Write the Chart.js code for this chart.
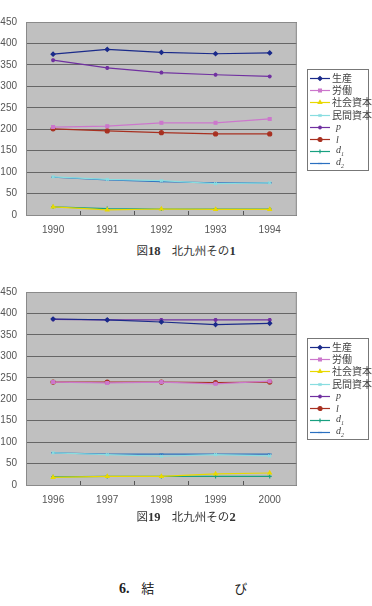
<!DOCTYPE html>
<html lang="ja">
<head>
<meta charset="UTF-8">
<title>北九州</title>
<script src="https://cdn.jsdelivr.net/npm/chart.js"></script>
<style>
  html, body { margin: 0; padding: 0; background: #fff; }
  body { width: 372px; height: 606px; position: relative; overflow: hidden;
         font-family: "Noto Sans CJK JP", "Liberation Sans", sans-serif; }
  .wrap { position: absolute; left: 0; width: 302px; height: 240px; }
  .legend { position: absolute; left: 307px; width: 62px; border: 1px solid #777;
            background: #fff; padding: 2px 0 1px 0; box-sizing: border-box; }
  .legend .row { height: 12.2px; display: flex; align-items: center; font-size: 10px;
                 color: #444; white-space: nowrap; line-height: 12px; }
  .legend canvas { flex: none; margin: 0 2px 0 2px; }
  .legend i { font-family: "Liberation Serif", serif; font-size: 10px; margin-left: 4px; }
  .legend sub { font-size: 6px; font-style: italic; font-family: "Liberation Serif", serif; }
  .cap { position: absolute; left: 0; width: 372px; text-align: center; font-size: 11.5px;
         color: #333; }
  .cap b { font-family: "Liberation Serif", serif; font-size: 12.5px; }
  .sec { position: absolute; top: 578px; left: 119px; font-size: 13px; color: #222; }
  .sec b { font-family: "Liberation Serif", serif; font-size: 14px; }
</style>
</head>
<body>
  <div class="wrap" style="top:0"><canvas id="chart18" width="302" height="240"></canvas></div>
  <div class="legend" id="legend18" style="top:69px; height:102px"></div>
  <div class="cap" style="top:242px"><span>図</span><b>18</b>　北九州その<b>1</b></div>

  <div class="wrap" style="top:270px"><canvas id="chart19" width="302" height="240"></canvas></div>
  <div class="legend" id="legend19" style="top:338px; height:102px"></div>
  <div class="cap" style="top:508px"><span>図</span><b>19</b>　北九州その<b>2</b></div>

  <div class="sec"><b>6.</b>&nbsp;&nbsp;&nbsp;&nbsp;結<span style="display:inline-block;width:80px"></span>び</div>

<script>
// series names (legend) and years
const seriesNames = ['生産', '労働', '社会資本', '民間資本', 'p', 'l', 'd1', 'd2'];
const years18 = ['1990', '1991', '1992', '1993', '1994'];
const years19 = ['1996', '1997', '1998', '1999', '2000'];
const yTicks = [0, 50, 100, 150, 200, 250, 300, 350, 400, 450];

// 図18 北九州その1
const seisan18 = [375, 386, 379, 376, 378];
const roudou18 = [205, 207, 215, 215, 224];
const shakai18 = [19, 12, 14, 13, 13];
const minkan18 = [89, 83, 80, 73, 75];
const p18 = [361, 343, 332, 327, 323];
const l18 = [201, 196, 192, 189, 189];
const d1_18 = [19, 15, 14, 14, 14];
const d2_18 = [88, 82, 78, 75, 75];

// 図19 北九州その2
const seisan19 = [387, 385, 380, 374, 377];
const roudou19 = [240, 238, 240, 236, 242];
const shakai19 = [18, 20, 20, 26, 28];
const minkan19 = [75, 71, 67, 71, 68];
const p19 = [386, 385, 385, 385, 385];
const l19 = [240, 240, 240, 239, 240];
const d1_19 = [19, 20, 20, 20, 20];
const d2_19 = [75, 72, 72, 72, 72];

const colors = ['#1a2a8a', '#cc77cc', '#e8d800', '#88dde0', '#7030a0', '#a83020', '#18a080', '#2a70c0'];
const markers = ['rectRot', 'rect', 'triangle', 'crossRot', 'star', 'circle', 'cross', 'line'];

function buildDatasets(list) {
    return list.map((vals, i) => ({
        label: seriesNames[i],
        data: vals,
        borderColor: colors[i],
        backgroundColor: colors[i],
        borderWidth: 1.2,
        pointStyle: markers[i],
        pointRadius: 2,
        pointBorderWidth: 1.2,
        tension: 0
    }));
}

// gray plot background + border
const plotBg = {
    id: 'plotBg',
    beforeDraw(chart) {
        const a = chart.chartArea, ctx = chart.ctx;
        ctx.save();
        ctx.fillStyle = '#c0c0c0';
        ctx.fillRect(a.left, a.top, a.right - a.left, a.bottom - a.top);
        ctx.restore();
    },
    afterDatasetsDraw(chart) {
        const a = chart.chartArea, ctx = chart.ctx;
        ctx.save();
        ctx.strokeStyle = '#8a8a8a';
        ctx.lineWidth = 1;
        ctx.strokeRect(a.left + 0.5, a.top + 0.5, a.right - a.left - 1, a.bottom - a.top);
        // small inner ticks between categories
        const xs = chart.scales.x;
        ctx.strokeStyle = '#555';
        for (let i = 1; i < xs.ticks.length; i++) {
            const x = Math.round((xs.getPixelForTick(i - 1) + xs.getPixelForTick(i)) / 2) + 0.5;
            ctx.beginPath();
            ctx.moveTo(x, a.bottom);
            ctx.lineTo(x, a.bottom - 4);
            ctx.stroke();
        }
        ctx.restore();
    }
};

function makeChart(id, labels, list) {
    new Chart(document.getElementById(id), {
        type: 'line',
        data: { labels: labels, datasets: buildDatasets(list) },
        plugins: [plotBg],
        options: {
            responsive: false,
            animation: false,
            layout: { padding: { top: 22, right: 2, left: 0, bottom: 0 } },
            plugins: { legend: { display: false }, tooltip: { enabled: false } },
            scales: {
                x: {
                    offset: true,
                    grid: { display: false },
                    border: { display: true, color: '#555' },
                    ticks: { color: '#555', font: { family: 'Liberation Sans', size: 10 }, padding: 1 },
                    afterFit(s) { s.height = 25; }
                },
                y: {
                    min: 0, max: 450,
                    afterBuildTicks(s) { s.ticks = yTicks.map(v => ({ value: v })); },
                    grid: { color: '#666', lineWidth: 1, drawTicks: false },
                    border: { display: false },
                    ticks: { color: '#555', font: { family: 'Liberation Sans', size: 10 }, padding: 9 },
                    afterFit(s) { s.width = 26; }
                }
            }
        }
    });
}

function buildLegend(id) {
    const box = document.getElementById(id);
    seriesNames.forEach((name, i) => {
        const row = document.createElement('div');
        row.className = 'row';
        const c = document.createElement('canvas');
        c.width = 20; c.height = 10;
        const ctx = c.getContext('2d');
        ctx.strokeStyle = colors[i];
        ctx.lineWidth = 1.2;
        ctx.beginPath(); ctx.moveTo(0, 5.5); ctx.lineTo(20, 5.5); ctx.stroke();
        ctx.fillStyle = colors[i];
        Chart.helpers.drawPoint(ctx, { pointStyle: markers[i], radius: 2, borderWidth: 1.2, rotation: 0 }, 10, 5.5);
        row.appendChild(c);
        const t = document.createElement('span');
        if (name.length <= 2 && /^[a-z]/.test(name)) {
            t.innerHTML = '<i>' + name[0] + '</i>' + (name[1] ? '<sub>' + name[1] + '</sub>' : '');
        } else {
            t.textContent = name;
        }
        row.appendChild(t);
        box.appendChild(row);
    });
}

makeChart('chart18', years18, [seisan18, roudou18, shakai18, minkan18, p18, l18, d1_18, d2_18]);
makeChart('chart19', years19, [seisan19, roudou19, shakai19, minkan19, p19, l19, d1_19, d2_19]);
buildLegend('legend18');
buildLegend('legend19');
</script>
</body>
</html>
